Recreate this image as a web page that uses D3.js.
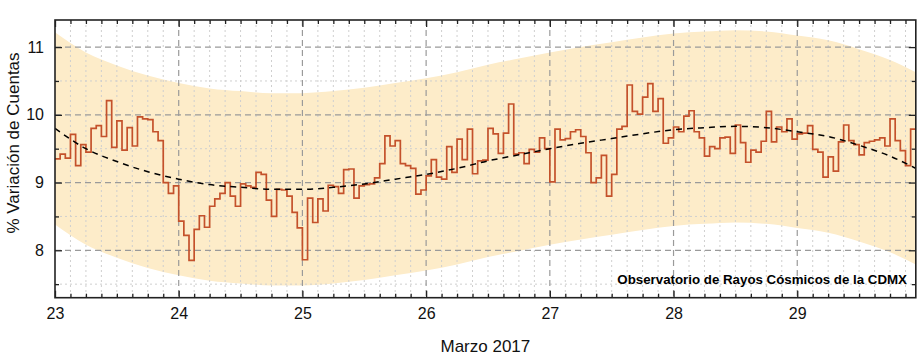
<!DOCTYPE html>
<html>
<head>
<meta charset="utf-8">
<script src="https://cdn.jsdelivr.net/npm/d3@7"></script>
<style>
  html, body { margin: 0; padding: 0; background: #ffffff; }
  svg { display: block; font-family: "Liberation Sans", Arial, sans-serif; }
</style>
</head>
<body>
<svg id="chart" width="920" height="356"></svg>
<script>
// ---------- data ----------
const startDay = 23;            // March 23, 2017, 00:00
const hoursPerDay = 24;
// hourly % variation of counts (one value per hour, step plot)
const hourlyValues = [
  9.35, 9.42, 9.36, 9.71, 9.25, 9.56, 9.45, 9.80, 9.84, 9.68, 10.21, 9.52,
  9.91, 9.48, 9.81, 9.54, 9.97, 9.94, 9.93, 9.75, 9.62, 9.00, 8.84, 8.95,
  8.43, 8.22, 7.85, 8.31, 8.51, 8.34, 8.65, 8.76, 8.84, 9.00, 8.80, 8.65,
  8.98, 8.95, 8.93, 9.15, 9.12, 8.74, 8.50, 8.90, 8.89, 8.80, 8.56, 8.33,
  7.86, 8.77, 8.41, 8.76, 8.58, 8.96, 8.94, 8.84, 9.19, 9.20, 8.77, 8.95,
  8.97, 8.98, 9.07, 9.28, 9.69, 9.54, 9.62, 9.28, 9.25, 9.21, 8.83, 8.89,
  9.10, 9.34, 9.08, 9.05, 9.53, 9.15, 9.64, 9.34, 9.79, 9.13, 9.32, 9.33,
  9.80, 9.72, 9.43, 9.73, 10.16, 9.42, 9.44, 9.28, 9.49, 9.45, 9.66, 9.50,
  9.01, 9.79, 9.63, 9.65, 9.75, 9.78, 9.68, 9.44, 9.00, 9.07, 9.40, 8.80,
  9.12, 9.79, 9.83, 10.44, 10.05, 10.01, 10.26, 10.46, 10.05, 10.24, 9.58, 9.66,
  9.82, 9.75, 9.98, 10.06, 9.75, 9.66, 9.39, 9.53, 9.50, 9.66, 9.67, 9.43,
  9.85, 9.59, 9.30, 9.48, 9.45, 9.61, 10.05, 9.60, 9.82, 9.75, 9.94, 9.64,
  9.72, 9.73, 9.84, 9.49, 9.45, 9.08, 9.38, 9.17, 9.60, 9.85, 9.62, 9.56,
  9.41, 9.59, 9.61, 9.63, 9.66, 9.54, 9.94, 9.62, 9.47, 9.25, 9.79
];
// trend curve (dashed)
const trendDays   = [23.00, 23.25, 23.50, 23.75, 24.00, 24.25, 24.50, 24.75, 25.00, 25.25,
                     25.50, 25.75, 26.00, 26.25, 26.50, 26.75, 27.00, 27.25, 27.50, 27.75,
                     28.00, 28.25, 28.50, 28.75, 29.00, 29.25, 29.50, 29.75, 29.958];
const trendValues = [9.80, 9.50, 9.31, 9.16, 9.05, 8.97, 8.93, 8.90, 8.90, 8.93,
                     8.98, 9.05, 9.12, 9.21, 9.32, 9.41, 9.50, 9.58, 9.65, 9.72,
                     9.78, 9.81, 9.83, 9.81, 9.75, 9.68, 9.55, 9.39, 9.21];
// shaded band limits at the same sample days
const bandUpper   = [11.22, 10.92, 10.73, 10.58, 10.47, 10.39, 10.35, 10.32, 10.32, 10.35,
                     10.40, 10.47, 10.54, 10.63, 10.74, 10.83, 10.92, 11.00, 11.07, 11.14,
                     11.20, 11.23, 11.25, 11.23, 11.17, 11.10, 10.97, 10.81, 10.63];
const bandLower   = [8.38, 8.08, 7.89, 7.74, 7.63, 7.55, 7.51, 7.48, 7.48, 7.51,
                     7.56, 7.63, 7.70, 7.79, 7.90, 7.99, 8.08, 8.16, 8.23, 8.30,
                     8.36, 8.39, 8.41, 8.39, 8.33, 8.26, 8.13, 7.97, 7.79];
const xTickDays   = [23, 24, 25, 26, 27, 28, 29];
const yTickValues = [8, 9, 10, 11];
const xLabel = "Marzo 2017";
const yLabel = "% Variación de Cuentas";
const creditText = "Observatorio de Rayos Cósmicos de la CDMX";

// ---------- layout ----------
const svg = d3.select("#chart");
const L = 55, R = 915.8, T = 20, B = 297.7;
const endDay = startDay + hourlyValues.length / hoursPerDay;

const x = d3.scaleLinear().domain([startDay, endDay]).range([L, R]);
const y = d3.scaleLinear().domain([7.3, 11.4]).range([B, T]);

svg.append("clipPath").attr("id", "clip")
  .append("rect").attr("x", L).attr("y", T).attr("width", R - L).attr("height", B - T);

const plot = svg.append("g").attr("clip-path", "url(#clip)");

// band
const bandData = trendDays.map((d, i) => ({ d, hi: bandUpper[i], lo: bandLower[i] }));
plot.append("path")
  .datum(bandData)
  .attr("fill", "#fdecc9")
  .attr("d", d3.area().x(p => x(p.d)).y0(p => y(p.lo)).y1(p => y(p.hi)).curve(d3.curveMonotoneX));

// minor grid
const xMinor = d3.range(startDay * 8, Math.floor(endDay * 8) + 1).map(v => v / 8).filter(v => !Number.isInteger(v));
const yMinor = [7.5, 8.5, 9.5, 10.5];
plot.append("g").selectAll("line").data(xMinor).join("line")
  .attr("x1", d => x(d)).attr("x2", d => x(d)).attr("y1", T).attr("y2", B)
  .attr("stroke", "#cfcfcf").attr("stroke-width", 1).attr("stroke-dasharray", "2,3");
plot.append("g").selectAll("line").data(yMinor).join("line")
  .attr("x1", L).attr("x2", R).attr("y1", d => y(d)).attr("y2", d => y(d))
  .attr("stroke", "#cfcfcf").attr("stroke-width", 1).attr("stroke-dasharray", "2,3");

// major grid
plot.append("g").selectAll("line").data(xTickDays.slice(1)).join("line")
  .attr("x1", d => x(d)).attr("x2", d => x(d)).attr("y1", T).attr("y2", B)
  .attr("stroke", "#9a9a9a").attr("stroke-width", 1.2).attr("stroke-dasharray", "6,4");
plot.append("g").selectAll("line").data(yTickValues).join("line")
  .attr("x1", L).attr("x2", R).attr("y1", d => y(d)).attr("y2", d => y(d))
  .attr("stroke", "#9a9a9a").attr("stroke-width", 1.2).attr("stroke-dasharray", "6,4");

// step line
const stepPts = hourlyValues.map((v, i) => [startDay + i / hoursPerDay, v]);
stepPts.push([endDay, hourlyValues[hourlyValues.length - 1]]);
plot.append("path")
  .datum(stepPts)
  .attr("fill", "none")
  .attr("stroke", "#c4512b")
  .attr("stroke-width", 1.7)
  .attr("d", d3.line().x(p => x(p[0])).y(p => y(p[1])).curve(d3.curveStepAfter));

// trend
plot.append("path")
  .datum(trendDays.map((d, i) => [d, trendValues[i]]))
  .attr("fill", "none")
  .attr("stroke", "#000")
  .attr("stroke-width", 1.5)
  .attr("stroke-dasharray", "6,5")
  .attr("d", d3.line().x(p => x(p[0])).y(p => y(p[1])).curve(d3.curveMonotoneX));

// credit text
svg.append("text")
  .attr("x", 907).attr("y", 284)
  .attr("text-anchor", "end")
  .attr("font-size", "13.3px").attr("font-weight", "bold").attr("fill", "#000")
  .text(creditText);

// axes with inward ticks
const xMajorAll = xTickDays;
const axB = d3.axisBottom(x).tickValues(xMajorAll).tickFormat(d3.format("d")).tickSizeInner(-7).tickSizeOuter(0).tickPadding(10);
const axT = d3.axisTop(x).tickValues(xMajorAll).tickFormat("").tickSizeInner(-7).tickSizeOuter(0);
const axL = d3.axisLeft(y).tickValues(yTickValues).tickFormat(d3.format("d")).tickSizeInner(-7).tickSizeOuter(0).tickPadding(11);
const axR = d3.axisRight(y).tickValues(yTickValues).tickFormat("").tickSizeInner(-7).tickSizeOuter(0);

const axMinB = d3.axisBottom(x).tickValues(xMinor).tickFormat("").tickSizeInner(-4).tickSizeOuter(0);
const axMinT = d3.axisTop(x).tickValues(xMinor).tickFormat("").tickSizeInner(-4).tickSizeOuter(0);
const axMinL = d3.axisLeft(y).tickValues(yMinor).tickFormat("").tickSizeInner(-4).tickSizeOuter(0);
const axMinR = d3.axisRight(y).tickValues(yMinor).tickFormat("").tickSizeInner(-4).tickSizeOuter(0);

function styleAxis(g) {
  g.select(".domain").remove();
  g.selectAll(".tick line").attr("stroke", "#222").attr("stroke-width", 1.3);
  g.selectAll(".tick text").attr("fill", "#111").attr("font-size", "16px")
    .attr("font-family", "'Liberation Sans', Arial, sans-serif");
}
svg.append("g").attr("transform", `translate(0,${B})`).call(axMinB).call(styleAxis);
svg.append("g").attr("transform", `translate(0,${T})`).call(axMinT).call(styleAxis);
svg.append("g").attr("transform", `translate(${L},0)`).call(axMinL).call(styleAxis);
svg.append("g").attr("transform", `translate(${R},0)`).call(axMinR).call(styleAxis);
svg.append("g").attr("transform", `translate(0,${B})`).call(axB).call(styleAxis);
svg.append("g").attr("transform", `translate(0,${T})`).call(axT).call(styleAxis);
svg.append("g").attr("transform", `translate(${L},0)`).call(axL).call(styleAxis);
svg.append("g").attr("transform", `translate(${R},0)`).call(axR).call(styleAxis);

// frame
svg.append("rect")
  .attr("x", L).attr("y", T).attr("width", R - L).attr("height", B - T)
  .attr("fill", "none").attr("stroke", "#222").attr("stroke-width", 1.6);

// axis titles
svg.append("text")
  .attr("x", (L + R) / 2).attr("y", 352)
  .attr("text-anchor", "middle").attr("font-size", "17px").attr("fill", "#111")
  .text(xLabel);
svg.append("text")
  .attr("transform", "translate(19,143) rotate(-90)")
  .attr("text-anchor", "middle").attr("font-size", "17px").attr("fill", "#111")
  .text(yLabel);
</script>
</body>
</html>
